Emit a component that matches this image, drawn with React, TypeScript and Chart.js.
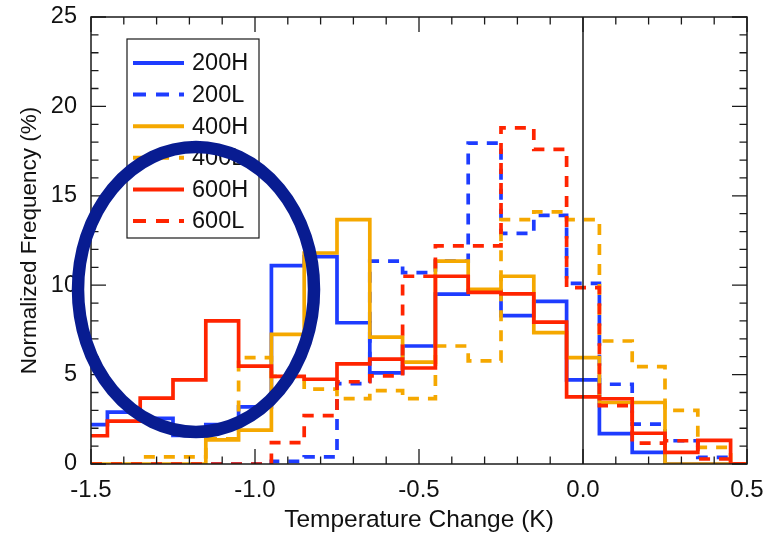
import React, { useEffect, useRef } from "react";
import { Chart, registerables } from "chart.js";

Chart.register(...registerables);

// ---- data ----
const binCenters = [-1.5, -1.4, -1.3, -1.2, -1.1, -1.0, -0.9, -0.8, -0.7, -0.6, -0.5, -0.4, -0.3, -0.2, -0.1, 0.0, 0.1, 0.2, 0.3, 0.4, 0.5];

const seriesLabels = ["200H", "200L", "400H", "400L", "600H", "600L"];

const freq200H = [2.2, 2.9, 2.55, 1.6, 2.2, 3.2, 11.1, 11.6, 7.9, 5.1, 6.6, 9.5, 9.7, 8.3, 9.1, 4.7, 1.7, 0.65, 0, 0, 0];
const freq200L = [0, 0, 0, 0, 0, 0, 0.15, 0.4, 4.5, 11.35, 10.7, 11.35, 17.95, 12.9, 13.9, 10.1, 4.46, 2.23, 1.3, 0.37, 0];
const freq400H = [0, 0, 0, 0, 1.35, 1.9, 7.25, 11.8, 13.67, 7.1, 5.7, 11.35, 9.77, 10.5, 7.35, 5.95, 3.44, 3.44, 0, 0, 0];
const freq400L = [0, 0, 0.4, 0.4, 1.4, 5.95, 4.9, 4.19, 3.66, 4.1, 3.66, 6.6, 5.77, 13.67, 14.1, 13.67, 6.88, 5.45, 3.0, 0.93, 0];
const freq600H = [1.58, 2.4, 3.68, 4.7, 8.0, 5.47, 4.9, 4.74, 5.6, 5.86, 5.37, 10.5, 9.6, 9.52, 7.94, 3.75, 3.65, 1.72, 0.65, 1.32, 0];
const freq600L = [0, 0, 0, 0, 0, 0, 1.2, 2.7, 4.6, 4.93, 10.5, 12.2, 12.2, 18.8, 17.6, 9.86, 3.26, 1.17, 1.3, 0.28, 0];

const xAxisTitle = "Temperature Change (K)";
const yAxisTitle = "Normalized Frequency (%)";

const BLUE = "#1e3cff";
const ORANGE = "#f5a800";
const RED = "#ff2400";
const NAVY = "rgb(8,28,145)";
const FONT = "'Liberation Sans', Arial, Helvetica, sans-serif";

export default function App() {
  const ref = useRef<HTMLCanvasElement>(null);

  useEffect(() => {
    const canvas = ref.current;
    if (!canvas) return;

    const mk = (label: string, data: number[], color: string, dashed: boolean, order: number) => ({
      label,
      data: binCenters.map((x, i) => ({ x, y: data[i] })),
      borderColor: color,
      backgroundColor: color,
      borderWidth: 3.7,
      borderDash: dashed ? [11, 9] : [],
      stepped: "middle" as const,
      pointRadius: 0,
      pointHoverRadius: 0,
      fill: false,
      order,
      borderCapStyle: "butt" as const,
      borderJoinStyle: "miter" as const,
    });

    const datasets = [
      mk(seriesLabels[0], freq200H, BLUE, false, 5),
      mk(seriesLabels[1], freq200L, BLUE, true, 4),
      mk(seriesLabels[2], freq400H, ORANGE, false, 2),
      mk(seriesLabels[3], freq400L, ORANGE, true, 3),
      mk(seriesLabels[4], freq600H, RED, false, 0),
      mk(seriesLabels[5], freq600L, RED, true, 1),
    ];

    const framePlugin = {
      id: "frameTicks",
      afterDatasetsDraw(chart: any) {
        const { ctx, chartArea: a, scales } = chart;
        const xs = scales.x;
        const ys = scales.y;
        ctx.save();
        ctx.strokeStyle = "#1a1a1a";
        ctx.lineWidth = 1.5;
        // zero line
        const x0 = xs.getPixelForValue(0);
        ctx.beginPath();
        ctx.moveTo(x0, a.top);
        ctx.lineTo(x0, a.bottom);
        ctx.stroke();
        // frame
        ctx.strokeRect(a.left, a.top, a.right - a.left, a.bottom - a.top);
        // ticks
        ctx.lineWidth = 1.3;
        ctx.beginPath();
        xs.ticks.forEach((t: any, i: number) => {
          const px = xs.getPixelForTick(i);
          const major = t.label !== "" && t.label !== undefined;
          const len = major ? 15 : 7.5;
          ctx.moveTo(px, a.bottom);
          ctx.lineTo(px, a.bottom - len);
          ctx.moveTo(px, a.top);
          ctx.lineTo(px, a.top + len);
        });
        ys.ticks.forEach((t: any, i: number) => {
          const py = ys.getPixelForTick(i);
          const major = t.label !== "" && t.label !== undefined;
          const len = major ? 15 : 7.5;
          ctx.moveTo(a.left, py);
          ctx.lineTo(a.left + len, py);
          ctx.moveTo(a.right, py);
          ctx.lineTo(a.right - len, py);
        });
        ctx.stroke();
        ctx.restore();
      },
      afterDraw(chart: any) {
        const { ctx } = chart;
        ctx.save();
        // legend box
        const lx = 127, ly = 39, lw = 132, lh = 199;
        ctx.fillStyle = "#ffffff";
        ctx.fillRect(lx, ly, lw, lh);
        ctx.strokeStyle = "#1a1a1a";
        ctx.lineWidth = 1.2;
        ctx.strokeRect(lx, ly, lw, lh);
        ctx.font = `23.5px ${FONT}`;
        ctx.textBaseline = "middle";
        ctx.textAlign = "left";
        chart.data.datasets.forEach((ds: any, i: number) => {
          const cy = 63 + i * 31.6;
          ctx.strokeStyle = ds.borderColor;
          ctx.lineWidth = 4;
          ctx.setLineDash(ds.borderDash && ds.borderDash.length ? [13, 10] : []);
          ctx.beginPath();
          ctx.moveTo(133, cy);
          ctx.lineTo(184, cy);
          ctx.stroke();
          ctx.setLineDash([]);
          ctx.fillStyle = "#111";
          ctx.fillText(ds.label, 192, cy + 1);
        });
        // annotation ellipse
        ctx.strokeStyle = NAVY;
        ctx.lineWidth = 12.5;
        ctx.beginPath();
        ctx.ellipse(196, 289.5, 118, 142.5, 0, 0, Math.PI * 2);
        ctx.stroke();
        ctx.restore();
      },
    };

    const chart = new Chart(canvas, {
      type: "line",
      data: { datasets: datasets as any },
      options: {
        animation: false,
        responsive: false,
        devicePixelRatio: 1,
        layout: { padding: { top: 17, right: 23, left: 0, bottom: 0 } },
        plugins: {
          legend: { display: false },
          tooltip: { enabled: false },
          title: { display: false },
        },
        scales: {
          x: {
            type: "linear",
            min: -1.5,
            max: 0.5,
            grid: { display: false, drawTicks: false },
            border: { display: false },
            ticks: {
              stepSize: 0.1,
              autoSkip: false,
              maxRotation: 0,
              padding: 12,
              color: "#111",
              font: { family: FONT, size: 24 },
              callback: (v: any) => {
                const n = Number(v);
                return Math.abs(n * 2 - Math.round(n * 2)) < 1e-6 ? n.toFixed(1) : "";
              },
            },
            title: {
              display: true,
              text: xAxisTitle,
              color: "#111",
              font: { family: FONT, size: 24.5 },
              padding: { top: 0, bottom: 0 },
            },
            afterFit: (s: any) => {
              s.height = 71;
              s.paddingLeft = 0;
              s.paddingRight = 0;
            },
          },
          y: {
            type: "linear",
            min: 0,
            max: 25,
            grid: { display: false, drawTicks: false },
            border: { display: false },
            ticks: {
              stepSize: 1,
              autoSkip: false,
              padding: 14,
              color: "#111",
              font: { family: FONT, size: 23.5 },
              callback: (v: any) => {
                const n = Number(v);
                return Math.abs(n / 5 - Math.round(n / 5)) < 1e-6 ? String(Math.round(n)) : "";
              },
            },
            title: {
              display: true,
              text: yAxisTitle,
              color: "#111",
              font: { family: FONT, size: 22.5 },
              padding: { top: 16, bottom: 0 },
            },
            afterFit: (s: any) => {
              s.width = 91;
              s.paddingTop = 0;
              s.paddingBottom = 0;
            },
          },
        },
      },
      plugins: [framePlugin],
    });

    return () => chart.destroy();
  }, []);

  return (
    <div style={{ position: "fixed", left: 0, top: 0, width: 770, height: 535, background: "#fff" }}>
      <canvas ref={ref} width={770} height={535} />
    </div>
  );
}
